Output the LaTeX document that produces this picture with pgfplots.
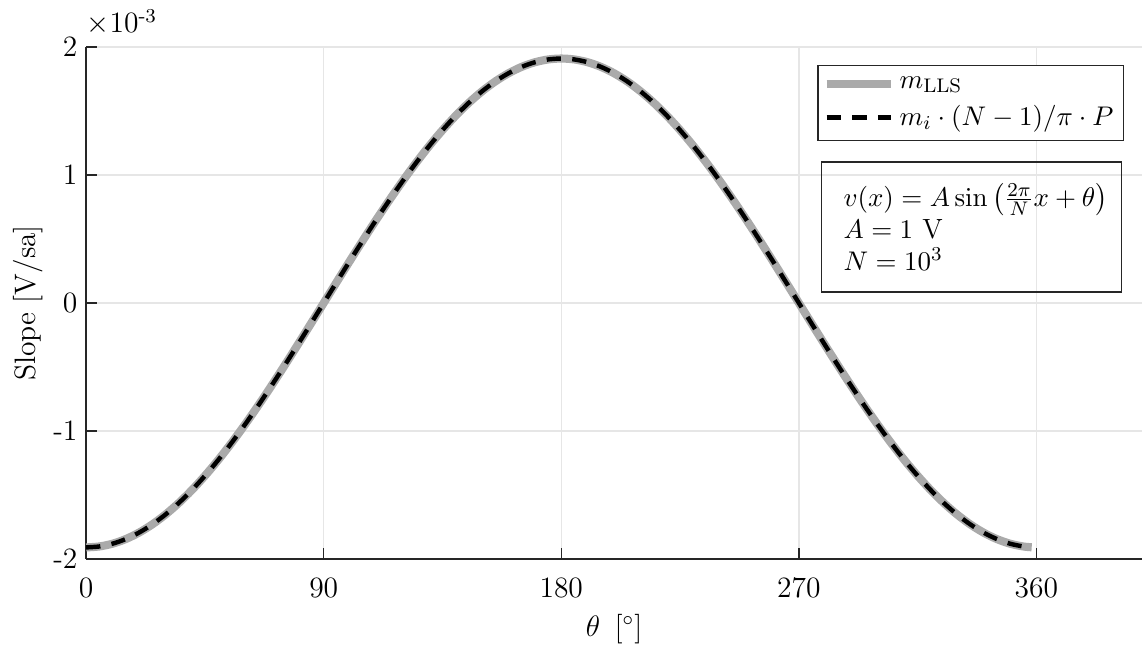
\documentclass[border=0pt]{standalone}
\usepackage{amsmath}
\usepackage{pgfplots}
\usepackage{pgfplotstable}
\pgfplotsset{compat=1.18}
\pgfplotstableread{
theta m
0 -0.0019099
5 -0.0019026
10 -0.0018809
15 -0.0018448
20 -0.0017947
25 -0.0017310
30 -0.0016540
35 -0.0015645
40 -0.0014631
45 -0.0013505
50 -0.0012277
55 -0.0010955
60 -0.0009550
65 -0.0008072
70 -0.0006532
75 -0.0004943
80 -0.0003317
85 -0.0001665
90 0
95 0.0001665
100 0.0003317
105 0.0004943
110 0.0006532
115 0.0008072
120 0.0009550
125 0.0010955
130 0.0012277
135 0.0013505
140 0.0014631
145 0.0015645
150 0.0016540
155 0.0017310
160 0.0017947
165 0.0018448
170 0.0018809
175 0.0019026
180 0.0019099
185 0.0019026
190 0.0018809
195 0.0018448
200 0.0017947
205 0.0017310
210 0.0016540
215 0.0015645
220 0.0014631
225 0.0013505
230 0.0012277
235 0.0010955
240 0.0009550
245 0.0008072
250 0.0006532
255 0.0004943
260 0.0003317
265 0.0001665
270 0
275 -0.0001665
280 -0.0003317
285 -0.0004943
290 -0.0006532
295 -0.0008072
300 -0.0009550
305 -0.0010955
310 -0.0012277
315 -0.0013505
320 -0.0014631
325 -0.0015645
330 -0.0016540
335 -0.0017310
340 -0.0017947
345 -0.0018448
350 -0.0018809
355 -0.0019026
358.2 -0.0019090
}\slopedata
\definecolor{lgray}{RGB}{170,170,170}
\definecolor{gridc}{RGB}{230,230,230}
\definecolor{axc}{RGB}{38,38,38}
\begin{document}
\begin{tikzpicture}[font=\fontsize{12}{14}\selectfont]
\begin{axis}[
  name=ax,
  scale only axis,
  width=429pt, height=208pt,
  xmin=0, xmax=400, ymin=-0.002, ymax=0.002,
  axis lines*=left,
  axis line style={axc, line width=0.6pt, -},
  xtick={0,90,180,270,360},
  ytick={-0.002,-0.001,0,0.001,0.002},
  yticklabels={{-2},{-1},{0},{1},{2}},
  scaled y ticks=false,
  tick align=inside,
  major tick length=4.5pt,
  tick style={axc, line width=0.6pt},
  xmajorgrids, ymajorgrids,
  grid style={gridc, line width=0.6pt},
  tick label style={font=\fontsize{12}{14}\selectfont},
  xticklabel style={yshift=-4.5pt},
  xlabel={$\theta$\, [$^\circ$]},
  ylabel={Slope [V/sa]},
  xlabel style={at={(axis description cs:0.5,0)}, anchor=north, yshift=-19pt},
  ylabel style={at={(axis description cs:-0.033,0.5)}, anchor=south},
  legend cell align=left,
  legend style={at={(0.983,0.965)}, anchor=north east, draw=axc, line width=0.6pt,
    inner xsep=2pt, inner ysep=2.5pt, row sep=1.5pt,
    font=\fontsize{11}{13}\selectfont},
  legend image code/.code={\draw[#1] (0pt,0pt) -- (26pt,0pt);},
  clip=false,
]
\addplot[lgray, line width=3.3pt, smooth] table[x=theta, y=m] {\slopedata};
\addlegendentry{$m_{\mathrm{LLS}}$}
\addplot[black, line width=1.8pt, dash pattern=on 5.8pt off 4.6pt, smooth] table[x=theta, y=m] {\slopedata};
\addlegendentry{$m_i\cdot(N-1)/\pi\cdot P$}
\node[anchor=south west, inner sep=0pt] at (rel axis cs:0,1) [yshift=4.5pt] {$\times10^{\text{-3}}$};
\node[draw=axc, line width=0.6pt, anchor=north east, align=left,
  inner xsep=5.7pt, inner ysep=8.7pt,
  font=\fontsize{11.3}{13}\selectfont]
  at (rel axis cs:0.9815,0.777)
  {\hspace*{3.3pt}$v(x)=A\sin\left(\frac{2\pi}{N}x+\theta\right)$\\ \hspace*{3.3pt}$A=1$ V\\ \hspace*{3.3pt}$N=10^3$};
\end{axis}
\pgfresetboundingbox
\useasboundingbox ([xshift=-35pt, yshift=-35.8pt]ax.south west) rectangle ([yshift=19.1pt]ax.north east);
\end{tikzpicture}
\end{document}
